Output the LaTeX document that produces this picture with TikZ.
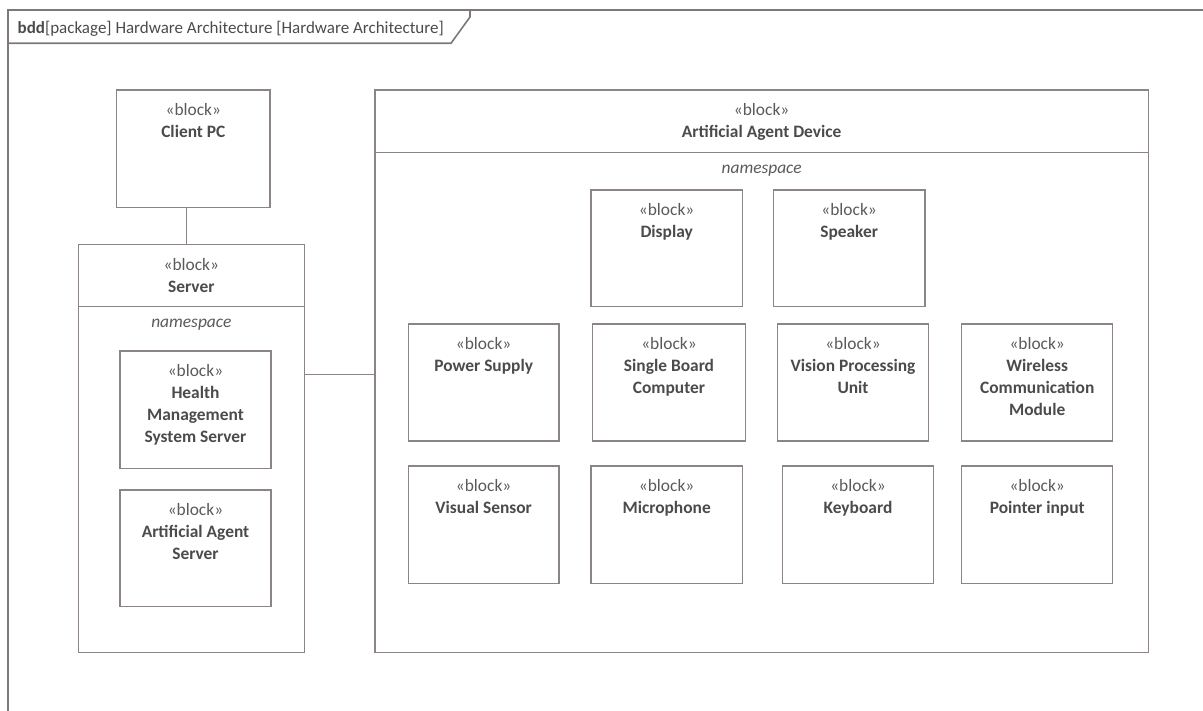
\documentclass[tikz,border=0pt]{standalone}
\usepackage{fontspec}
\setmainfont{Carlito}
\definecolor{edge}{HTML}{8C8585}
\definecolor{ink}{HTML}{4B4B4B}
\definecolor{softink}{HTML}{5A5A5A}

% A block: outline box, its stereotype and its (bold) name lines
\newcommand\blockat[6]{%
  \node[box, minimum width={#4-#2}, minimum height={#5-#3}] (#1) at (#2,#3) {};
  \node[stereo] (#1-st) at ([yshift=-10.3pt]#1.north) {\strut«block»};
  \node[bname] (#1-nm) at ([yshift=-22pt]#1-st.north) {\strut #6};
}

\begin{document}
\begin{tikzpicture}[x=1pt,y=-1pt,
  box/.style={draw=edge, line width=1.3pt, rectangle, inner sep=0pt, outer sep=0pt, anchor=north west},
  stereo/.style={anchor=north, inner sep=0pt, align=center, text=softink, font=\fontsize{17.4}{22}\selectfont},
  bname/.style={anchor=north, inner sep=0pt, align=center, text=ink, font=\fontsize{17.4}{22}\selectfont\bfseries},
  nspace/.style={anchor=north, inner sep=0pt, text=softink, font=\fontsize{17.4}{22}\selectfont\itshape},
  sep/.style={draw=edge, line width=1.3pt},
  conn/.style={draw=edge, line width=1.3pt},
  frame/.style={draw=edge!90!black, line width=1.6pt}
]
\useasboundingbox (0,0) rectangle (1203,711);

% diagram frame and its name tab
\draw[frame] (8,730) -- (8,10) -- (1220,10);
\draw[frame] (8,43.3) -- (451,43.3) -- (470,17) -- (470,10);
\node[anchor=base west, inner sep=0pt, text=ink, font=\fontsize{17}{20}\selectfont]
  (title) at (17.5,33.8) {\textbf{bdd}[package] Hardware Architecture [Hardware Architecture]};

% client
\blockat{client}{116.7}{90}{270}{207.3}{Client PC}

% server with its namespace compartment
\blockat{server}{78.3}{244.3}{304.3}{652.3}{Server}
\draw[sep] ([yshift=-62.4pt]server.north west) -- ([yshift=-62.4pt]server.north east);
\node[nspace] (server-ns) at ([yshift=-68pt]server.north) {\strut namespace};
\blockat{hms}{120}{351}{271}{468.3}{Health\\Management\\System Server}
\blockat{aas}{120}{490}{271}{606.7}{Artificial Agent\\Server}

% artificial agent device with its namespace compartment
\blockat{device}{375}{90}{1148.3}{652.3}{Artificial Agent Device}
\draw[sep] ([yshift=-62.3pt]device.north west) -- ([yshift=-62.3pt]device.north east);
\node[nspace] (device-ns) at ([yshift=-67.8pt]device.north) {\strut namespace};

\blockat{display}{591}{190}{742.3}{306.7}{Display}
\blockat{speaker}{773.3}{190}{925}{306.7}{Speaker}

\blockat{power}{408.3}{324}{559}{441}{Power Supply}
\blockat{sbc}{592.3}{324}{745.7}{441}{Single Board\\Computer}
\blockat{vpu}{777.3}{324}{928.7}{441}{Vision Processing\\Unit}
\blockat{wcm}{961.7}{324}{1112.7}{441}{Wireless\\Communication\\Module}

\blockat{visual}{408.3}{466}{559}{583.3}{Visual Sensor}
\blockat{mic}{591}{466}{742.3}{583.3}{Microphone}
\blockat{keyboard}{782.3}{466}{933.7}{583.3}{Keyboard}
\blockat{pointer}{961.7}{466}{1112.7}{583.3}{Pointer input}

% connectors
\draw[conn] ([xshift=-4.6pt]server.north) -- ([xshift=-4.6pt]server.north |- client.south);
\draw[conn] ([yshift=-3.1pt]device.west -| server.east) -- ([yshift=-3.1pt]device.west);
\end{tikzpicture}
\end{document}
